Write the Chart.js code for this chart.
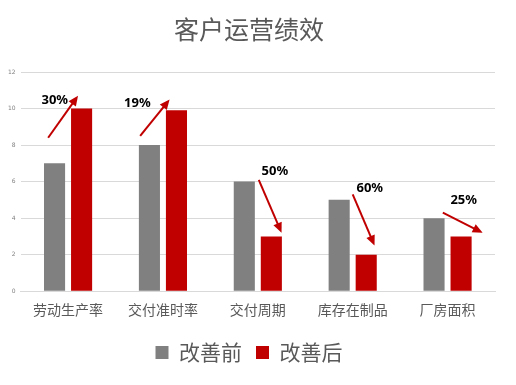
<!DOCTYPE html>
<html>
<head>
<meta charset="utf-8">
<script src="https://cdn.jsdelivr.net/npm/chart.js@4/dist/chart.umd.min.js"></script>
<style>
  body { margin: 0; background: #fff; }
</style>
</head>
<body>
<canvas id="perfChart" width="516" height="385"></canvas>
<script>
const categories = ["劳动生产率", "交付准时率", "交付周期", "库存在制品", "厂房面积"];
const beforeValues = [7, 8, 6, 5, 4];
const afterValues = [10, 9.9, 3, 2, 3];
const yTicks = [0, 2, 4, 6, 8, 10, 12];
// change labels + arrows, in category / value units
const changeLabels = ["30%", "19%", "50%", "60%", "25%"];
const labelAt = [[-0.14, 10.45], [-0.27, 10.3], [0.18, 6.55], [0.18, 5.65], [0.17, 5.0]];
const arrowFrom = [[-0.21, 8.4], [-0.24, 8.5], [0.01, 6.1], [0, 5.3], [-0.05, 4.3]];
const arrowTo = [[0.105, 10.7], [0.07, 10.5], [0.25, 3.2], [0.23, 2.5], [0.37, 3.2]];

const arrowPlugin = {
  id: "arrows",
  afterDatasetsDraw(chart) {
    const ctx = chart.ctx;
    const xs = chart.scales.x, ys = chart.scales.y;
    const step = xs.getPixelForValue(1) - xs.getPixelForValue(0);
    ctx.save();
    changeLabels.forEach((txt, i) => {
      const cx = xs.getPixelForValue(i);
      const x1 = cx + arrowFrom[i][0] * step, y1 = ys.getPixelForValue(arrowFrom[i][1]);
      const x2 = cx + arrowTo[i][0] * step, y2 = ys.getPixelForValue(arrowTo[i][1]);
      const ang = Math.atan2(y2 - y1, x2 - x1);
      const head = 11;
      ctx.strokeStyle = "#c00000";
      ctx.fillStyle = "#c00000";
      ctx.lineWidth = 2;
      ctx.beginPath();
      ctx.moveTo(x1, y1);
      ctx.lineTo(x2 - Math.cos(ang) * head * 0.8, y2 - Math.sin(ang) * head * 0.8);
      ctx.stroke();
      ctx.beginPath();
      ctx.moveTo(x2, y2);
      ctx.lineTo(x2 - head * Math.cos(ang - 0.42), y2 - head * Math.sin(ang - 0.42));
      ctx.lineTo(x2 - head * Math.cos(ang + 0.42), y2 - head * Math.sin(ang + 0.42));
      ctx.closePath();
      ctx.fill();

      ctx.fillStyle = "#000";
      ctx.font = "bold 13px 'Noto Sans', 'DejaVu Sans', sans-serif";
      ctx.textAlign = "center";
      ctx.textBaseline = "middle";
      ctx.fillText(txt, cx + labelAt[i][0] * step, ys.getPixelForValue(labelAt[i][1]));
    });
    ctx.restore();
  }
};

const chart = new Chart(document.getElementById("perfChart"), {
  type: "bar",
  data: {
    labels: categories,
    datasets: [
      { label: "改善前", data: beforeValues, backgroundColor: "#808080" },
      { label: "改善后", data: afterValues, backgroundColor: "#c00000" }
    ]
  },
  options: {
    responsive: false,
    animation: false,
    devicePixelRatio: 1,
    layout: { padding: { left: 3, right: 21, top: 0, bottom: 12 } },
    datasets: { bar: { categoryPercentage: 0.57, barPercentage: 0.78 } },
    scales: {
      x: {
        grid: { display: false, drawTicks: false },
        border: { color: "#d9d9d9", width: 1 },
        ticks: {
          color: "#595959",
          padding: 10,
          maxRotation: 0,
          font: { size: 14, family: "'Noto Sans CJK SC', sans-serif" }
        }
      },
      y: {
        min: 0,
        max: 12,
        afterBuildTicks(axis) { axis.ticks = yTicks.map(v => ({ value: v })); },
        grid: { color: "#d9d9d9", drawTicks: false },
        border: { display: false },
        ticks: {
          color: "#808080",
          padding: 5,
          font: { size: 6, family: "'DejaVu Sans', sans-serif" }
        }
      }
    },
    plugins: {
      title: {
        display: true,
        text: "客户运营绩效",
        color: "#595959",
        font: { size: 25, weight: "normal", family: "'Noto Sans CJK SC', sans-serif" },
        padding: { top: 14, bottom: 28 }
      },
      legend: {
        position: "bottom",
        labels: {
          color: "#595959",
          boxWidth: 13,
          boxHeight: 13,
          padding: 14,
          font: { size: 21, family: "'Noto Sans CJK SC', sans-serif" }
        }
      },
      tooltip: { enabled: false }
    }
  },
  plugins: [arrowPlugin]
});
</script>
</body>
</html>
